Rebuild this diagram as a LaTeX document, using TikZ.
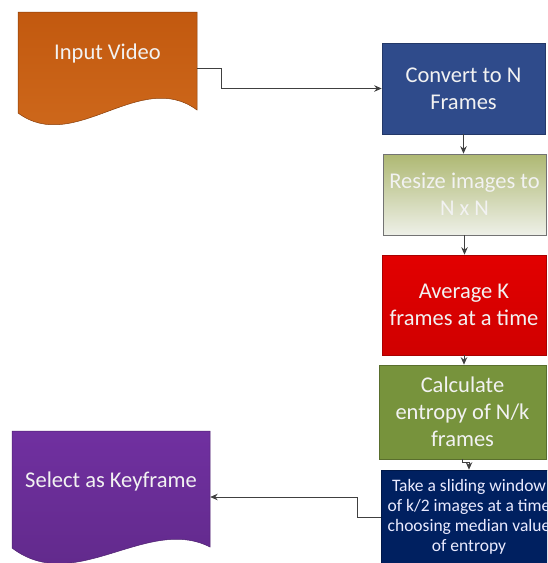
\documentclass[tikz,border=0pt]{standalone}
\usepackage{fontspec}
\setmainfont{Carlito}
\usetikzlibrary{arrows.meta,positioning}

\definecolor{vidtop}{HTML}{C2590F}
\definecolor{vidbot}{HTML}{D06B1E}
\definecolor{convblue}{HTML}{2F4B8B}
\definecolor{resizetop}{HTML}{AEB872}
\definecolor{resizebot}{HTML}{EEF0E8}
\definecolor{avgred}{HTML}{E20000}
\definecolor{calcgreen}{HTML}{77933C}
\definecolor{takenavy}{HTML}{002060}
\definecolor{keypurple}{HTML}{7030A0}
\definecolor{connline}{HTML}{404040}

\begin{document}
\begin{tikzpicture}[x=1pt,y=-1pt,
  box/.style={draw=#1!75!black, line width=0.6pt, fill=#1, inner sep=0pt,
    align=center, text=white!95!black, font=\fontsize{22.5}{27}\selectfont},
  frame/.style={inner sep=0pt, draw=none},
  doctext/.style={text=white!95!black, font=\fontsize{22.5}{27}\selectfont},
  conn/.style={draw=connline, line width=0.8pt, -{Stealth[length=7.5pt,width=6.5pt]}}]

  \clip (0,0) rectangle (547,563);

	%documents
    \path[draw=vidtop!70!black, line width=0.5pt, top color=vidtop, bottom color=vidbot]
      (18,12) -- (197,12) -- (197,110) .. controls (140,68) and (75,155) .. (18,113) -- cycle;
    \node[frame, minimum width=179pt, minimum height=112pt] (input) at (107.5,68) {};
    \node[doctext] (inputtxt) at (107.5,53) {Input Video};

    \path[draw=keypurple!70!black, line width=0.5pt, top color=keypurple, bottom color=keypurple!85!black]
      (12,431) -- (210,431) -- (210,547) .. controls (147,515) and (75,596) .. (12,548) -- cycle;
    \node[frame, minimum width=198pt, minimum height=132pt] (select) at (111,497) {};
    \node[doctext] (selecttxt) at (111,481) {Select as Keyframe};

	%steps
    \node[box=convblue, minimum width=163pt, minimum height=91pt] (convert) at (463.5,88.5) {Convert to N\\Frames};
    \node[box=resizetop, top color=resizetop, bottom color=resizebot, draw=black!55,
      minimum width=163pt, minimum height=81pt] (resize) at (464.5,194.5) {Resize images to\\N x N};
    \node[box=avgred, top color=avgred, bottom color=avgred!92!black,
      minimum width=164pt, minimum height=100pt] (average) at (464,305) {Average K\\frames at a time};
    \node[box=calcgreen, minimum width=167pt, minimum height=94pt] (calc) at (462.5,412) {Calculate\\entropy of N/k\\frames};
    \node[box=takenavy, text=blue!8!white, font=\fontsize{17.5}{20}\selectfont,
      minimum width=176pt, minimum height=94pt] (take) at (469,517)
      {Take a sliding window\\of k/2 images at a time\\choosing median value\\of entropy};

	%arrows
    \draw[conn] (input.east) -- ++(24,0) |- (convert.west);
    \draw[conn] (convert.south) -- (convert.south |- resize.north);
    \draw[conn] (resize.south) -- (resize.south |- average.north);
    \draw[conn] (average.south) -- (average.south |- calc.north);
    \draw[conn] (calc.south) -- ++(0,3) -| (take.north);
    \draw[conn] (take.west) -- ++(-23,0) |- (select.east);

\end{tikzpicture}
\end{document}
